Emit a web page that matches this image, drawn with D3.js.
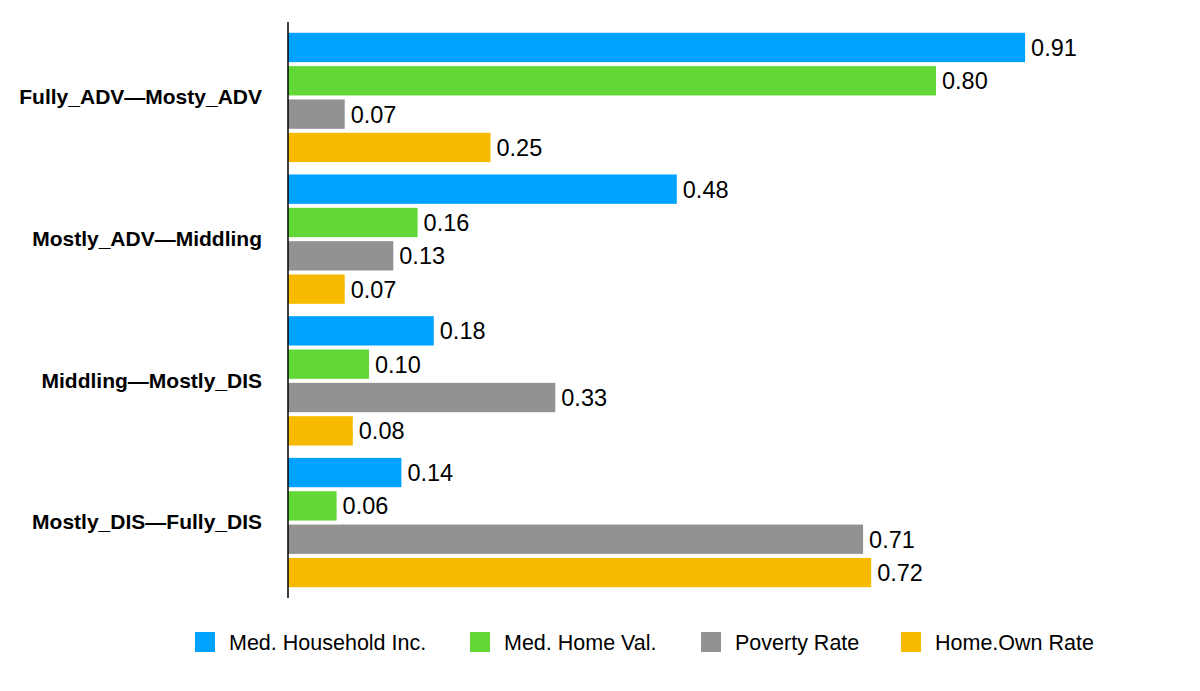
<!DOCTYPE html>
<html><head><meta charset="utf-8">
<script src="https://cdn.jsdelivr.net/npm/d3@7"></script>
<style>
html,body{margin:0;padding:0;background:#fff;}
svg{display:block;}
</style></head>
<body>
<svg id="chart" width="1200" height="691"></svg>
<script>
const categories = ["Fully_ADV\u2014Mosty_ADV", "Mostly_ADV\u2014Middling", "Middling\u2014Mostly_DIS", "Mostly_DIS\u2014Fully_DIS"];
const seriesNames = ["Med. Household Inc.", "Med. Home Val.", "Poverty Rate", "Home.Own Rate"];
const medHouseholdInc = [0.91, 0.48, 0.18, 0.14];
const medHomeVal = [0.80, 0.16, 0.10, 0.06];
const povertyRate = [0.07, 0.13, 0.33, 0.71];
const homeOwnRate = [0.25, 0.07, 0.08, 0.72];
const colors = ["#00A2FF", "#61D836", "#929292", "#F8BA00"];

const seriesValues = [medHouseholdInc, medHomeVal, povertyRate, homeOwnRate];
const svg = d3.select("#chart");
const font = "Helvetica, 'Liberation Sans', Arial, sans-serif";

const x0 = 288;
const x = d3.scaleLinear().domain([0, 1]).range([x0, x0 + 810]);
const y = d3.scaleBand().domain(categories).range([22, 598]).paddingInner(0.059).paddingOuter(0.062);
const ySub = d3.scaleBand().domain(seriesNames).range([0, y.bandwidth()]).paddingInner(0.12).paddingOuter(0.06);

const data = [];
categories.forEach((c, i) => {
  seriesNames.forEach((s, j) => {
    data.push({cat: c, series: s, value: seriesValues[j][i], color: colors[j]});
  });
});

const g = svg.append("g");
g.selectAll("rect.bar").data(data).enter().append("rect")
  .attr("class", "bar")
  .attr("x", x(0))
  .attr("y", d => y(d.cat) + ySub(d.series))
  .attr("width", d => x(d.value) - x(0))
  .attr("height", ySub.bandwidth())
  .attr("fill", d => d.color);

g.selectAll("text.val").data(data).enter().append("text")
  .attr("class", "val")
  .attr("x", d => x(d.value) + 6)
  .attr("y", d => y(d.cat) + ySub(d.series) + ySub.bandwidth() / 2)
  .attr("dy", "0.36em")
  .attr("font-family", font)
  .attr("font-size", 23.5)
  .attr("fill", "#000")
  .text(d => d.value.toFixed(2));

// axis
const yAxis = d3.axisLeft(y).tickSize(0).tickPadding(26);
const ax = svg.append("g").attr("transform", `translate(${x0},0)`).call(yAxis);
ax.select(".domain").attr("stroke", "#000").attr("stroke-width", 1.5).attr("d", "M0,22V598");
ax.selectAll(".tick text")
  .attr("font-family", font)
  .attr("font-size", 21)
  .attr("font-weight", "bold")
  .attr("fill", "#000");

// legend
const legendX = [195, 470, 701, 901];
const lg = svg.append("g");
seriesNames.forEach((s, j) => {
  const it = lg.append("g").attr("transform", `translate(${legendX[j]},632)`);
  it.append("rect").attr("width", 20).attr("height", 20).attr("fill", colors[j]);
  it.append("text").attr("x", 34).attr("y", 10).attr("dy", "0.36em")
    .attr("font-family", font).attr("font-size", 21.5).attr("fill", "#000").text(s);
});
</script>
</body></html>
